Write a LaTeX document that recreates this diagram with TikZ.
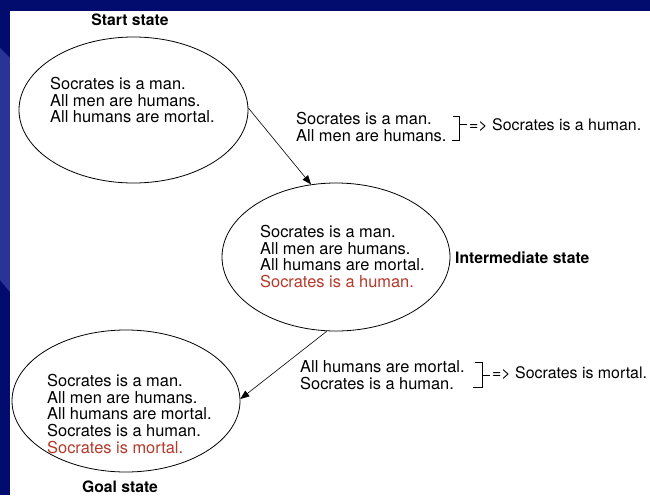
\documentclass[tikz,border=0pt]{standalone}
\usepackage{fontspec}
\setmainfont{TeX Gyre Heros}
\usetikzlibrary{shapes.geometric,arrows.meta}

\definecolor{slidenavy}{RGB}{2,12,110}
\definecolor{slideswoosh}{RGB}{42,52,150}
\definecolor{newfact}{RGB}{180,58,43}

\tikzset{
  statebox/.style={ellipse, draw=black, line width=0.8pt, inner sep=0pt},
  facts/.style={anchor=north west, align=left, inner sep=0pt,
    font=\fontsize{16.4}{16.7}\selectfont},
  caption/.style={inner sep=0pt, font=\fontsize{15.7}{16}\selectfont\bfseries},
  rule/.style={anchor=west, inner sep=0pt, font=\fontsize{15.9}{16.5}\selectfont},
  bracket/.style={line width=0.7pt},
  step arrow/.style={line width=0.6pt, -{Triangle[length=9pt,width=7pt]}},
}

\begin{document}
\begin{tikzpicture}[x=1pt, y=-1pt]
  \useasboundingbox (0,0) rectangle (650,495);

  % slide background
  \fill[slidenavy] (0,0) rectangle (650,495);
  \fill[slideswoosh] (0,48) -- (10,58) -- (10,292) -- (0,280) -- cycle;
  \fill[white] (10,11) rectangle (650,495);

  % the three states
  \node[statebox, minimum width=229pt, minimum height=146pt] (start) at (133.5,110) {};
  \node[statebox, minimum width=228pt, minimum height=148pt] (inter) at (336,257) {};
  \node[statebox, minimum width=228pt, minimum height=142pt] (goal) at (126,401) {};

  % facts held in each state
  \node[facts] (startfacts) at (50,77) {Socrates is a man.\\All men are humans.\\All humans are mortal.};
  \node[facts] (interfacts) at (260,225) {Socrates is a man.\\All men are humans.\\All humans are mortal.\\\textcolor{newfact}{Socrates is a human.}};
  \node[facts] (goalfacts) at (47,374) {Socrates is a man.\\All men are humans.\\All humans are mortal.\\Socrates is a human.\\\textcolor{newfact}{Socrates is mortal.}};

  % state names
  \node[caption] (startname) at (130,20) {Start state};
  \node[caption, anchor=west] (intername) at (455,258) {Intermediate state};
  \node[caption] (goalname) at (120,487) {Goal state};

  % inference steps
  \draw[step arrow] (start.1) -- (inter.109);
  \draw[step arrow] (inter.263) -- (goal.1.5);

  % first inference
  \node[facts] (premA) at (296,112.5) {Socrates is a man.\\All men are humans.};
  \draw[bracket] (453,116.7) -- (459,116.7) -- (459,140.7) -- (452,140.7);
  \draw[bracket] (459,124.7) -- (467,124.7);
  \node[rule] (conclA) at (469,125) {=> Socrates is a human.};

  % second inference
  \node[facts] (premB) at (300,360.5) {All humans are mortal.\\Socrates is a human.};
  \draw[bracket] (475,362.3) -- (482,362.3) -- (482,387.3) -- (473,387.3);
  \draw[bracket] (482,375) -- (490,375);
  \node[rule] (conclB) at (492,373.5) {=> Socrates is mortal.};
\end{tikzpicture}
\end{document}
